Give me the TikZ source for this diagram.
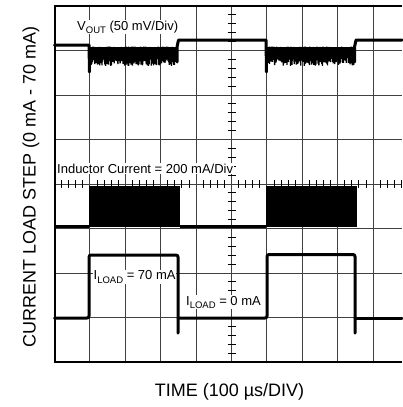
\documentclass[tikz,border=0pt]{standalone}
\usepackage{fontspec}
\setmainfont{Liberation Sans}
\newcommand{\mysub}[1]{\raisebox{-0.3em}{\fontsize{9.5}{9.5}\selectfont #1}}
\begin{document}
\begin{tikzpicture}[x=1pt,y=-1pt,
  grid/.style={line width=0.9pt,black!75},
  frame/.style={line width=2pt,black},
  tick/.style={line width=0.9pt,black},
  trace/.style={line width=3pt,black,line join=round,line cap=round},
  ripple/.style={line width=1.3pt,black},
  lbl/.style={fill=white,inner sep=0.5pt,font=\fontsize{13}{15}\selectfont},
  axlbl/.style={inner sep=0pt,font=\fontsize{18}{20}\selectfont}]
\useasboundingbox (0,0) rectangle (402,407);
\pgfmathsetseed{7}
% grid
\foreach \i in {1,...,9} \draw[grid] ({54.5+35.4*\i},6) -- ({54.5+35.4*\i},362);
\foreach \j in {1,...,7} \draw[grid] (54.5,{6+44.5*\j}) -- (402,{6+44.5*\j});
% centre axis ticks
\foreach \k in {1,...,39} {
  \pgfmathtruncatemacro{\r}{mod(\k,5)}
  \ifnum\r=0\relax\else
    \draw[tick] (227.5,{6+8.9*\k}) -- (235.5,{6+8.9*\k});
  \fi
}
\foreach \k in {1,...,49} {
  \pgfmathtruncatemacro{\r}{mod(\k,5)}
  \ifnum\r=0\relax\else
    \draw[tick] ({54.5+7.08*\k},180) -- ({54.5+7.08*\k},188);
  \fi
}
% frame
\draw[frame] (402,6) -- (54.5,6) -- (54.5,362) -- (402,362);

% V_OUT trace
\draw[trace] (54.5,45) -- (89,45) -- (89.5,72);
\fill (90,47) rectangle (177,58);
\draw[ripple] (90,48) \foreach \i in {1,...,120} { -- ({90+\i*0.725-0.36},{58+8*rnd}) -- ({90+\i*0.725},{46.5+2*rnd}) };
\draw[trace] (177,62) -- (177,47) -- (178.5,40) -- (266,40) -- (266.5,72);
\fill (267,47) rectangle (354,58);
\draw[ripple] (267,48) \foreach \i in {1,...,120} { -- ({267+\i*0.725-0.36},{58+8*rnd}) -- ({267+\i*0.725},{46.5+2*rnd}) };
\draw[trace] (354.5,62) -- (354.5,47) -- (356,40) -- (402,40);

% Inductor current trace
\fill (89,185.5) rectangle (179.5,227);
\fill (266,185.5) rectangle (356.5,227);
\draw[trace,line cap=butt] (54.5,226.5) -- (89,226.5);
\draw[trace,line cap=butt] (179.5,226.5) -- (266,226.5);

% Load current trace
\draw[trace,rounded corners=2pt] (54.5,318) -- (89,318) -- (89,255) -- (178,255) -- (178,333);
\draw[trace,rounded corners=2pt] (178,318) -- (267,318) -- (267,254.5) -- (355,254.5) -- (355,333);
\draw[trace] (355,318) -- (402,318);

% labels
\node[lbl,anchor=base west] (vout) at (76.5,30) {V\mysub{OUT} (50 mV/Div)};
\node[lbl,anchor=base west] (ind) at (56.5,173.3) {Inductor Current = 200 mA/Div};
\node[lbl,anchor=base west] (il70) at (93,279.3) {I\mysub{LOAD} = 70 mA};
\node[lbl,anchor=base west] (il0) at (185.5,305) {I\mysub{LOAD} = 0 mA};
\node[axlbl,anchor=base,rotate=90] (ylab) at (35.5,187) {CURRENT LOAD STEP (0 mA - 70 mA)};
\node[axlbl,anchor=base] (xlab) at (229.5,396.7) {TIME (100 µs/DIV)};
\end{tikzpicture}
\end{document}
